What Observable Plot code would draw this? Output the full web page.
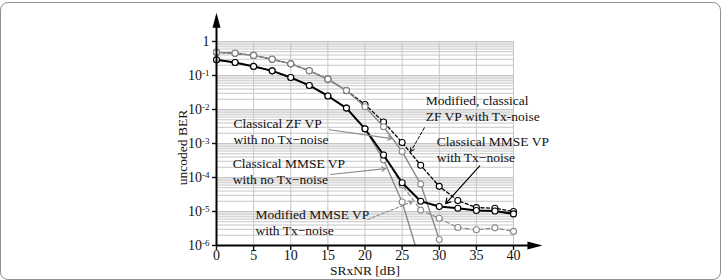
<!DOCTYPE html>
<html>
<head>
<meta charset="utf-8">
<script src="https://cdn.jsdelivr.net/npm/d3@7"></script>
<script src="https://cdn.jsdelivr.net/npm/@observablehq/plot@0.6"></script>
<style>
  body { margin: 0; background: #fff; }
  #wrap { position: relative; width: 723px; height: 280px; }
  #border { position: absolute; left: 0; top: 2px; width: 721px; height: 278px; box-sizing: border-box;
            border: 1px solid #8f8f8f; border-radius: 8px; pointer-events: none; }
</style>
</head>
<body>
<div id="wrap"><div id="border"></div></div>
<script>
// SRxNR sample points [dB]
const snr = [0, 2.5, 5, 7.5, 10, 12.5, 15, 17.5, 20, 22.5, 25, 27.5, 30, 32.5, 35, 37.5, 40];

// Uncoded BER per precoder
const zfTxNoise      = [0.48, 0.45, 0.39, 0.30, 0.22, 0.138, 0.078, 0.036, 0.014, 4.3e-3, 1.07e-3, 2.3e-4, 5.5e-5, 2.1e-5, 1.3e-5, 1.25e-5, 1.0e-5];
const zfNoTxNoise    = [0.48, 0.45, 0.39, 0.30, 0.22, 0.138, 0.078, 0.036, 0.012, 3.1e-3, 5.8e-4, 6.4e-5, 1.5e-6];
const mmseTxNoise    = [0.29, 0.24, 0.185, 0.137, 0.087, 0.051, 0.025, 0.011, 2.7e-3, 4.6e-4, 7.0e-5, 2.0e-5, 1.4e-5, 1.25e-5, 1.07e-5, 1.03e-5, 8.5e-6];
const mmseNoTxNoise  = [0.29, 0.24, 0.185, 0.137, 0.087, 0.051, 0.025, 0.011, 2.7e-3, 3.3e-4, 1.9e-5, 3.0e-7];
const modMmseTxNoise = [0.29, 0.24, 0.185, 0.137, 0.087, 0.051, 0.025, 0.011, 2.7e-3, 4.6e-4, 6.0e-5, 1.1e-5, 6.3e-6, 3.4e-6, 2.9e-6, 3.3e-6, 2.6e-6];

// Axis ticks
const xTicks = [0, 5, 10, 15, 20, 25, 30, 35, 40];
const yDecades = [1e-6, 1e-5, 1e-4, 1e-3, 1e-2, 1e-1, 1];

// Curve annotations (text block centre-left anchored, in data units)
const noteText = [
  "Modified, classical\nZF VP with Tx-noise",
  "Classical MMSE VP\nwith Tx\u2212noise",
  "Classical ZF VP\nwith no Tx\u2212noise",
  "Classical MMSE VP\nwith no Tx\u2212noise",
  "Modified MMSE VP\nwith Tx\u2212noise"
];
const noteX = [28.17, 29.65, 2.29, 2.2, 5.26];
const noteY = [1.13e-2, 7.06e-4, 2.38e-3, 1.6e-4, 5.07e-6];

// Leader arrows from annotations to curves
const leaderX1 = [28.0, 35.45, 15.2, 15.36, 20.35];
const leaderY1 = [2.9e-3, 2.2e-4, 2.55e-3, 1.22e-4, 5.8e-6];
const leaderX2 = [26.15, 30.86, 23.6, 22.78, 26.4];
const leaderY2 = [5.8e-4, 1.7e-5, 1.39e-3, 1.82e-4, 1.96e-5];
const leaderKind = ["blackDash", "black", "gray", "gray", "grayDash"];

const series = (values) => values.map((v, i) => ({snr: snr[i], ber: v}));
const visible = (rows) => rows.filter(d => d.ber >= 1e-6);

const sZfTx = series(zfTxNoise), sZfNo = series(zfNoTxNoise), sMmseTx = series(mmseTxNoise),
      sMmseNo = series(mmseNoTxNoise), sModMmse = series(modMmseTxNoise);

// minor log grid: 1..9 x 10^e
const gridY = [];
for (let e = -6; e < 0; e++) for (let k = 1; k <= 9; k++) gridY.push(k * Math.pow(10, e));
gridY.push(1);

const notes = noteText.map((t, i) => ({t, x: noteX[i], y: noteY[i]}));
const leaders = leaderKind.map((k, i) => ({k, x1: leaderX1[i], y1: leaderY1[i], x2: leaderX2[i], y2: leaderY2[i]}));

// filled arrowhead, tip at origin, base below
const arrowHead = {draw(ctx) { ctx.moveTo(0, 0); ctx.lineTo(4, 15); ctx.lineTo(-4, 15); ctx.closePath(); }};
const xAxisEnd = 43.9, yAxisEnd = 7;

const GRAY = "#8a8a8a";
const lineOpts = {x: "snr", y: "ber", clip: true};
const dotOpts = (stroke) => ({x: "snr", y: "ber", r: 3, fill: "white", stroke, strokeWidth: 1.1});

const chart = Plot.plot({
  width: 723, height: 280,
  marginLeft: 216, marginRight: 210, marginTop: 41, marginBottom: 35,
  style: {fontFamily: "'Liberation Serif', 'Times New Roman', serif", fontSize: "14px", color: "#111", background: "transparent"},
  x: {domain: [0, 40]},
  y: {type: "log", domain: [1e-6, 1]},
  marks: [
    Plot.ruleY(gridY, {x1: 0, x2: 40, y: d => d, stroke: "#c6c6c6", strokeWidth: 1}),
    Plot.ruleX(xTicks, {x: d => d, y1: 1e-6, y2: 1, stroke: "#c6c6c6", strokeWidth: 1}),

    Plot.line(sZfTx, {...lineOpts, stroke: "#000", strokeWidth: 1.3, strokeDasharray: "3,2.5"}),
    Plot.dot(visible(sZfTx), dotOpts("#000")),
    Plot.line(sZfNo, {...lineOpts, stroke: GRAY, strokeWidth: 1.4}),
    Plot.dot(visible(sZfNo), dotOpts(GRAY)),
    Plot.line(sMmseNo, {...lineOpts, stroke: GRAY, strokeWidth: 1.4}),
    Plot.dot(visible(sMmseNo), dotOpts(GRAY)),
    Plot.line(sModMmse, {...lineOpts, stroke: GRAY, strokeWidth: 1.2, strokeDasharray: "4,3"}),
    Plot.dot(visible(sModMmse), dotOpts(GRAY)),
    Plot.line(sMmseTx, {...lineOpts, stroke: "#000", strokeWidth: 2}),
    Plot.dot(visible(sMmseTx), dotOpts("#000")),

    Plot.arrow(leaders.filter(d => d.k === "blackDash"), {x1: "x1", y1: "y1", x2: "x2", y2: "y2", stroke: "#000", strokeWidth: 1, strokeDasharray: "3,2", headLength: 6}),
    Plot.arrow(leaders.filter(d => d.k === "black"), {x1: "x1", y1: "y1", x2: "x2", y2: "y2", stroke: "#000", strokeWidth: 1.2, headLength: 7}),
    Plot.arrow(leaders.filter(d => d.k === "gray"), {x1: "x1", y1: "y1", x2: "x2", y2: "y2", stroke: GRAY, strokeWidth: 1.1, headLength: 6}),
    Plot.arrow(leaders.filter(d => d.k === "grayDash"), {x1: "x1", y1: "y1", x2: "x2", y2: "y2", stroke: GRAY, strokeWidth: 1.1, strokeDasharray: "3,2", headLength: 6}),

    Plot.text(notes, {x: "x", y: "y", text: "t", textAnchor: "start", lineAnchor: "middle", lineHeight: 1.22, fontSize: 13.5, fill: "#111"}),

    // axes with arrowheads
    Plot.ruleY([1e-6], {x1: 0, x2: xAxisEnd - 1, y: d => d, stroke: "#000", strokeWidth: 2}),
    Plot.ruleX([0], {x: d => d, y1: 1e-6, y2: yAxisEnd * 0.7, stroke: "#000", strokeWidth: 2}),
    Plot.dot([{x: 0, y: yAxisEnd}], {x: "x", y: "y", symbol: arrowHead, fill: "#000", stroke: null}),
    Plot.dot([{x: xAxisEnd, y: 1e-6}], {x: "x", y: "y", symbol: arrowHead, rotate: 90, fill: "#000", stroke: null}),

    Plot.axisX({ticks: xTicks, tickSize: 5, tickPadding: 0, strokeWidth: 1.4, fontSize: 14, label: null}),
    Plot.axisY({ticks: yDecades, tickSize: 4, tickPadding: 3, strokeWidth: 1.4, fontSize: 14, label: null,
                tickFormat: d => String(Math.round(Math.log10(d)))}),
    Plot.text(["uncoded BER"], {frameAnchor: "left", textAnchor: "middle", lineAnchor: "middle", dx: -34, dy: 4, rotate: -90, fontSize: 13.5, fill: "#111"}),
    Plot.text(["SRxNR [dB]"], {frameAnchor: "bottom", textAnchor: "middle", lineAnchor: "middle", dy: 25, fontSize: 13.5, fill: "#111"})
  ]
});

// decade tick labels as 10 with superscript exponent
d3.select(chart).selectAll('g[aria-label="y-axis tick label"] text').each(function() {
  const el = d3.select(this);
  const e = el.text();
  if (e === "0") { el.text("1"); return; }
  el.text("10");
  el.append("tspan").attr("dy", "-0.45em").attr("font-size", "9px").text(e.replace("\u2212", "-"));
});

document.getElementById("wrap").prepend(chart);
</script>
</body>
</html>
